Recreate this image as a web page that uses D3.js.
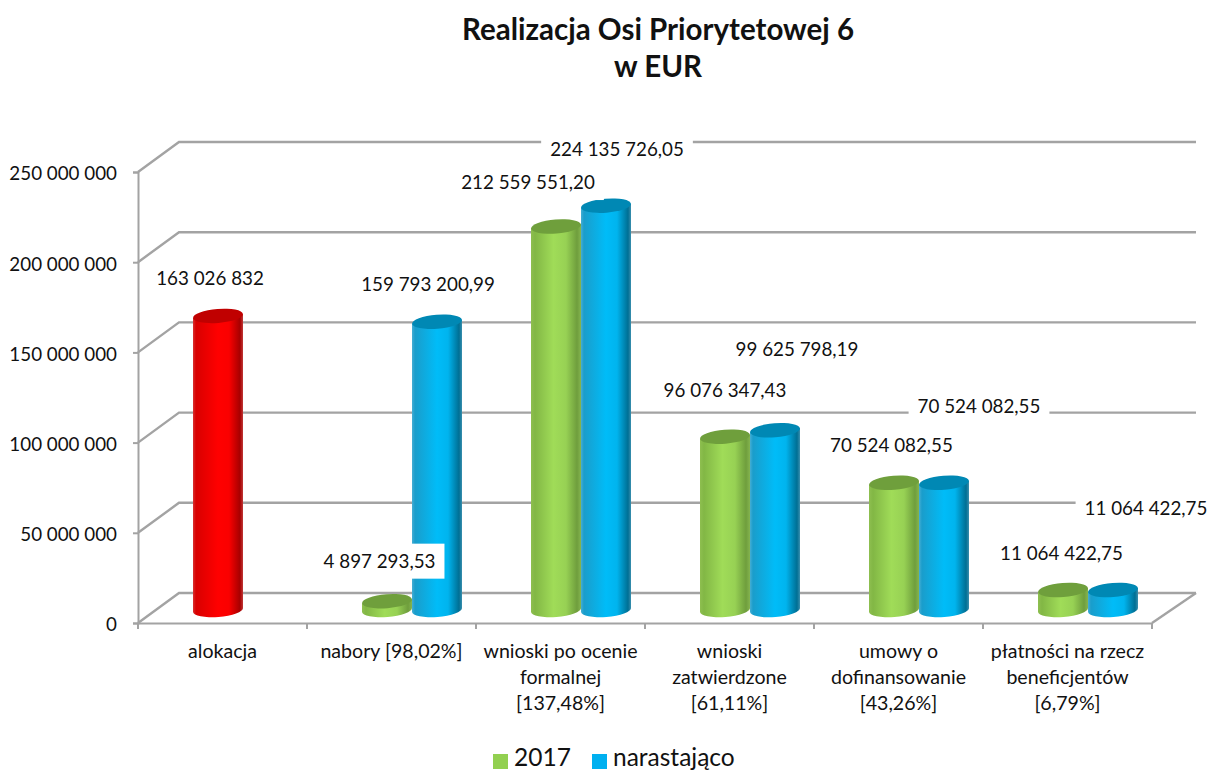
<!DOCTYPE html>
<html>
<head>
<meta charset="utf-8">
<script src="https://cdn.jsdelivr.net/npm/d3@7/dist/d3.min.js"></script>
<style>
  html, body { margin: 0; padding: 0; background: #fff; overflow: hidden; }
  text { font-family: Lato, "Open Sans", sans-serif; fill: #111; }
</style>
</head>
<body>
<div id="chart"></div>
<script>
// Values
const categories = [
  ["alokacja"],
  ["nabory [98,02%]"],
  ["wnioski po ocenie", "formalnej", "[137,48%]"],
  ["wnioski", "zatwierdzone", "[61,11%]"],
  ["umowy o", "dofinansowanie", "[43,26%]"],
  ["płatności na rzecz", "beneficjentów", "[6,79%]"]
];
const alokacja = [163026832, null, null, null, null, null];
const values2017 = [null, 4897293.53, 212559551.20, 96076347.43, 70524082.55, 11064422.75];
const valuesNarastajaco = [null, 159793200.99, 224135726.05, 99625798.19, 70524082.55, 11064422.75];
const yTicks = [0, 50000000, 100000000, 150000000, 200000000, 250000000];
const legendNames = ["2017", "narastająco"];

// Hand-placed data labels, offset from the top of each cylinder [dx, dy]
const offsetsAlokacja = [[-8, -37]];
const offsets2017 = [null, [-7.5, -40], [-28, -44], [0, -46], [-2.5, -37], [-1.5, -37]];
const offsetsNarastajaco = [null, [-9, -37], [11, -56], [22, -81], [35, -76], [33, -82]];

const width = 1209;
const height = 771;
const margin = { top: 172, right: 57, bottom: 148, left: 138 };
const depth = { x: 41, y: 30 };   // how far the back wall sits from the axes

const plPL = d3.formatLocale({ decimal: ",", thousands: " ", grouping: [3], currency: ["", " EUR"] });
const fmtInt = plPL.format(",d");
const fmtDec = plPL.format(",.2f");

const svg = d3.select("#chart")
  .append("svg")
  .attr("width", width)
  .attr("height", height)
  .attr("viewBox", [0, 0, width, height]);

const xScale = d3.scaleBand()
  .domain(d3.range(categories.length))
  .range([margin.left, width - margin.right]);

const slotScale = d3.scaleBand()
  .domain([0, 1])
  .range([-50, 50]);

const yScale = d3.scaleLinear()
  .domain([0, 250000000])
  .range([height - margin.bottom, margin.top]);

// Gradients for the cylinder sides
const defs = svg.append("defs");
function addGradient(id, stops) {
  const g = defs.append("linearGradient").attr("id", id);
  stops.forEach((s) => {
    g.append("stop").attr("offset", s[0]).attr("stop-color", s[1]);
  });
}
addGradient("gradGreen", [[0, "#8ebf50"], [0.08, "#82b745"], [0.45, "#a0dc58"], [0.7, "#97d154"], [0.92, "#6f9e3d"], [1, "#85b44f"]]);
addGradient("gradBlue", [[0, "#45aed4"], [0.06, "#1a9dcb"], [0.5, "#00bcf8"], [0.72, "#00b4ee"], [0.94, "#006f94"], [1, "#3a8fae"]]);
addGradient("gradRed", [[0, "#d83030"], [0.06, "#d80000"], [0.5, "#ff0000"], [0.72, "#fa0000"], [0.94, "#a60000"], [1, "#c03838"]]);
defs.append("filter").attr("id", "soft")
  .append("feGaussianBlur").attr("stdDeviation", 0.6);

// Back wall gridlines and the slanted side lines
const grid = svg.append("g")
  .attr("fill", "none")
  .attr("stroke", "#a3a3a3")
  .attr("stroke-width", 2.4)
  .attr("filter", "url(#soft)");

grid.selectAll("path.wall")
  .data(yTicks)
  .enter()
  .append("path")
  .attr("class", "wall")
  .attr("d", (d) => {
    const y = yScale(d);
    return `M${margin.left},${y}L${margin.left + depth.x},${y - depth.y}H${width - 13}`;
  });

// Floor edge on the right
grid.append("path")
  .attr("d", `M${width - margin.right},${yScale(0)}L${width - 13},${yScale(0) - depth.y}`);

// Axes
svg.append("g")
  .attr("class", "axis yaxis")
  .attr("transform", `translate(${margin.left},0)`)
  .call(d3.axisLeft(yScale).tickValues(yTicks).tickFormat(fmtInt).tickSize(5).tickPadding(16));

const xAxis = svg.append("g")
  .attr("class", "axis")
  .attr("transform", `translate(0,${yScale(0)})`)
  .call(d3.axisBottom(xScale).tickValues([]).tickSize(0));

xAxis.selectAll("line.tk")
  .data(d3.range(categories.length + 1))
  .enter()
  .append("line")
  .attr("class", "tk")
  .attr("x1", (i) => margin.left + i * xScale.step())
  .attr("x2", (i) => margin.left + i * xScale.step())
  .attr("y1", 0)
  .attr("y2", 6);

svg.selectAll(".axis path, .axis line")
  .attr("stroke", "#a3a3a3")
  .attr("stroke-width", 2);

svg.selectAll(".yaxis text")
  .attr("font-size", 18.8)
  .attr("dy", "0.42em")
  .style("font-family", "Lato, sans-serif")
  .attr("fill", "#111");

// Category labels, wrapped by hand like the original
const catLabels = svg.append("g").attr("text-anchor", "middle").attr("font-size", 19.6);
categories.forEach((lines, i) => {
  lines.forEach((line, j) => {
    catLabels.append("text")
      .attr("x", xScale(i) + xScale.bandwidth() / 2)
      .attr("y", yScale(0) + 35 + j * 26)
      .text(line);
  });
});

// Cylinders
const rx = 25;
const ry = 7;
const tilt = 2;     // left edge sits this many px lower than the right
const floorY = 13;  // bars stand on the middle of the floor

function barCenter(i, slot) {
  return xScale(i) + xScale.bandwidth() / 2 + depth.x / 2 + slotScale(slot) + slotScale.bandwidth() / 2;
}

function drawSeries(values, slot, sideFill, topFill) {
  const rows = values.map((v, i) => ({ v: v, i: i })).filter((d) => d.v !== null);
  const bars = svg.append("g").selectAll("g")
    .data(rows)
    .enter()
    .append("g");

  bars.append("path")
    .attr("fill", sideFill)
    .attr("d", (d) => {
      const cx = barCenter(d.i, slot);
      const top = yScale(d.v) - floorY;
      const bot = yScale(0) - floorY;
      return `M${cx - rx},${top + tilt}L${cx - rx},${bot + tilt}` +
        `A${rx},${ry} -4.6 0 0 ${cx + rx},${bot - tilt}` +
        `L${cx + rx},${top - tilt}Z`;
    });

  bars.append("ellipse")
    .attr("fill", topFill)
    .attr("rx", rx)
    .attr("ry", ry)
    .attr("transform", (d) => `translate(${barCenter(d.i, slot)},${yScale(d.v) - floorY}) rotate(-4.6)`);
}

drawSeries(values2017, 0, "url(#gradGreen)", "#6f9f3c");
drawSeries(valuesNarastajaco, 1, "url(#gradBlue)", "#0088b4");
drawSeries(alokacja, 0, "url(#gradRed)", "#c00000");

// Data labels sit on white boxes that hide whatever is behind them
const labelLayer = svg.append("g").attr("font-size", 18.8).attr("text-anchor", "middle");

function drawLabels(values, slot, offsets, fmt) {
  values.forEach((v, i) => {
    if (v === null) return;
    const lx = barCenter(i, slot) + offsets[i][0];
    const ly = yScale(v) - floorY + offsets[i][1];
    const box = labelLayer.append("rect").attr("fill", "#fff");
    const t = labelLayer.append("text")
      .attr("x", lx)
      .attr("y", ly)
      .attr("dy", "0.35em")
      .text(fmt(v));
    const w = t.node().getComputedTextLength() + 18;
    box.attr("x", lx - w / 2)
      .attr("y", ly - 17.5)
      .attr("width", w)
      .attr("height", 35);
  });
}

drawLabels(alokacja, 0, offsetsAlokacja, fmtInt);
drawLabels(values2017, 0, offsets2017, fmtDec);
drawLabels(valuesNarastajaco, 1, offsetsNarastajaco, fmtDec);

// Title
const title = svg.append("g").attr("text-anchor", "middle").attr("font-size", 29.5).attr("font-weight", "bold");
title.append("text").attr("x", 658).attr("y", 40).text("Realizacja Osi Priorytetowej 6");
title.append("text").attr("x", 658).attr("y", 77).text("w EUR");

// Legend
const legendColors = ["#92d050", "#00b0f0"];
const legendX = [493, 592];
legendNames.forEach((name, i) => {
  svg.append("rect")
    .attr("x", legendX[i])
    .attr("y", 754)
    .attr("width", 15)
    .attr("height", 15)
    .attr("fill", legendColors[i]);
  svg.append("text")
    .attr("x", legendX[i] + 21)
    .attr("y", 765.5)
    .attr("font-size", 24.5)
    .text(name);
});
</script>
</body>
</html>
